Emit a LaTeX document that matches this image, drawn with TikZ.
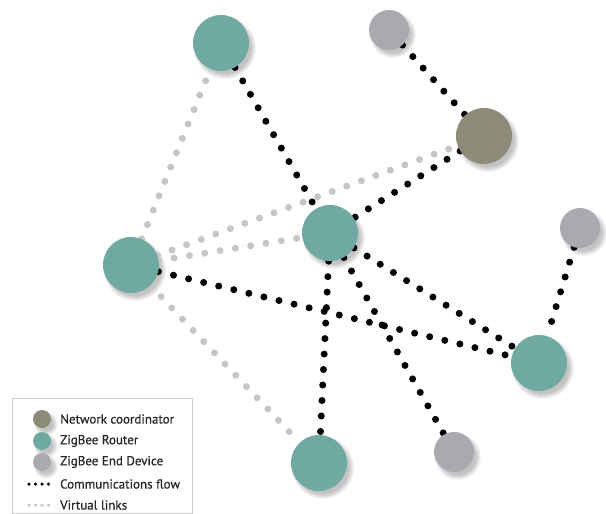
\documentclass[tikz,border=0pt]{standalone}
\usepackage{fontspec}
\setmainfont{PT Sans}[FakeBold=0.6]
\definecolor{routerc}{HTML}{70A9A2}
\definecolor{coordc}{HTML}{8D8B77}
\definecolor{endc}{HTML}{A9AAAF}
\definecolor{vgrey}{HTML}{C6C6C6}
\definecolor{boxc}{HTML}{D0D0D0}
\pgfdeclarelayer{shadowlayer}
\pgfdeclarelayer{edgelayer}
\pgfsetlayers{shadowlayer,edgelayer,main}
\begin{document}
\begin{tikzpicture}[x=1pt,y=-1pt,
  comm/.style={line width=7pt, line cap=round, dash pattern=on 0pt off 15.5pt, draw=black},
  virt/.style={comm, draw=vgrey},
  legcomm/.style={line width=3.5pt, line cap=round, dash pattern=on 0pt off 6.5pt, draw=black},
  legvirt/.style={legcomm, draw=vgrey},
  dev/.style={circle, inner sep=0pt, minimum size=#1},
  router/.style={dev=56pt, fill=routerc},
  coord/.style={dev=56pt, fill=coordc},
  enddev/.style={dev=40pt, fill=endc},
  legtext/.style={anchor=west, inner sep=0pt, font=\fontsize{13}{15}\selectfont, text=black!85},
]
\useasboundingbox (0,0) rectangle (606,514);

% devices
\node[router] (rt) at (221,43) {};
\node[enddev] (et) at (389,30) {};
\node[coord]  (c)  at (484,136) {};
\node[router] (rc) at (330,233) {};
\node[router] (rl) at (131,265) {};
\node[enddev] (er) at (580,228) {};
\node[router] (rr) at (539,363) {};
\node[router] (rb) at (319,463) {};
\node[enddev] (eb) at (454,452) {};

% legend
\draw[boxc, line width=0.8pt] (12,398) rectangle (192,513);
\node[coord, dev=18pt]  (lc) at (42,419) {};
\node[router, dev=18pt] (lr) at (42,441) {};
\node[enddev, dev=18pt] (le) at (42,462) {};
\coordinate (lf1) at (29,484);
\coordinate (lf2) at (51,484);
\coordinate (lv1) at (29,505);
\coordinate (lv2) at (51,505);
\draw[legcomm] (lf1) -- (lf2);
\draw[legvirt] (lv1) -- (lv2);
\node[legtext] (tc) at (60,419) {Network coordinator};
\node[legtext] (tr) at (60,441) {ZigBee Router};
\node[legtext] (te) at (60,462) {ZigBee End Device};
\node[legtext] (tf) at (60,484) {Communications flow};
\node[legtext] (tv) at (60,505) {Virtual links};

% soft shadows
\begin{pgfonlayer}{shadowlayer}
\foreach \n/\r in {rt/28,et/20,c/28,rc/28,rl/28,er/20,rr/28,rb/28,eb/20,lc/9,lr/9,le/9}{
  \foreach \k in {0,...,5}{
    \fill[black, opacity=0.045] ([shift={(4,5)}]\n.center) circle ({\r+3-\k});
  }
}
\end{pgfonlayer}

% links
\begin{pgfonlayer}{edgelayer}
\draw[virt] (rl) -- (rt);
\draw[virt] (rl) -- (c);
\draw[virt] (rl) -- (rc);
\draw[virt] (rl) -- (rb);
\draw[comm] (et) -- (c);
\draw[comm] (rt) -- (rc);
\draw[comm] (c) -- (rc);
\draw[comm] (rc) -- (rb);
\draw[comm] (rc) -- (eb);
\draw[comm] (rc) -- (rr);
\draw[comm] (rl) -- (rr);
\draw[comm] (er) -- (rr);
\end{pgfonlayer}
\end{tikzpicture}
\end{document}
